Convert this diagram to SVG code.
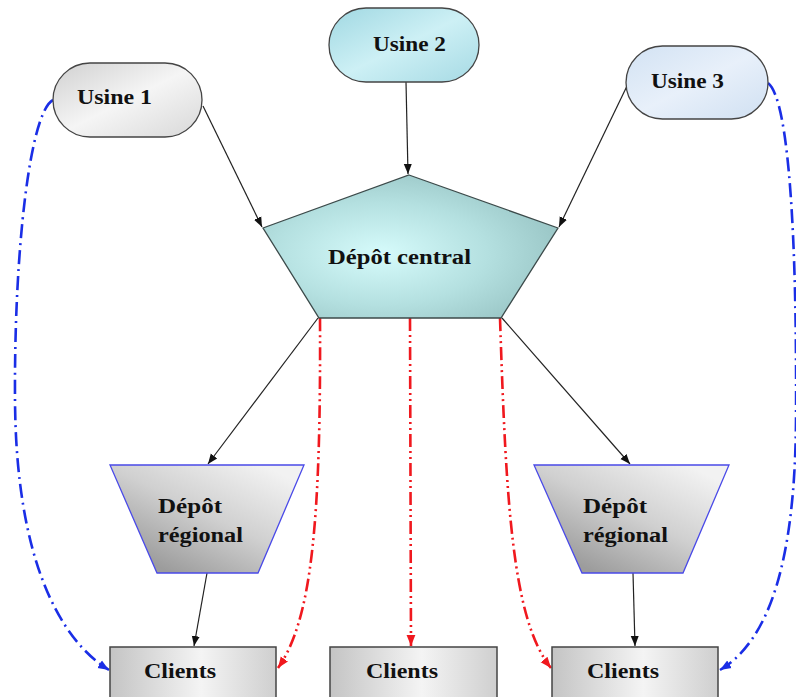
<svg xmlns="http://www.w3.org/2000/svg" width="796" height="697" viewBox="0 0 796 697">
<style>
.lbl{font-family:"Liberation Serif","Times New Roman",serif;font-weight:bold;font-size:20px;fill:#111;}
.pill{stroke:#444;stroke-width:1.3;}
.blk{fill:none;stroke:#222;stroke-width:1.2;marker-end:url(#ab);}
.blue{fill:none;stroke:#1a2ee6;stroke-width:2.6;stroke-dasharray:14 5 2 5;marker-end:url(#abl);}
.red{fill:none;stroke:#f0181e;stroke-width:2.6;stroke-dasharray:13 4 2 4 2 4;marker-end:url(#ar);}
.trap{stroke:#4a4ae8;stroke-width:1.3;fill:url(#gTrap);}
.cli{stroke:#444;stroke-width:1.5;fill:url(#gCli);}
</style>
<defs>
<marker id="ab" viewBox="0 0 10 10" refX="10" refY="5" markerWidth="10" markerHeight="10" markerUnits="userSpaceOnUse" orient="auto"><path d="M0,1 L10,5 L0,9 z" fill="#111"/></marker>
<marker id="abl" viewBox="0 0 10 10" refX="10" refY="5" markerWidth="11" markerHeight="11" markerUnits="userSpaceOnUse" orient="auto"><path d="M0,1 L10,5 L0,9 z" fill="#1a2ee6"/></marker>
<marker id="ar" viewBox="0 0 10 10" refX="10" refY="5" markerWidth="11" markerHeight="11" markerUnits="userSpaceOnUse" orient="auto"><path d="M0,1 L10,5 L0,9 z" fill="#f0181e"/></marker>
<linearGradient id="g1" x1="0" y1="0" x2="1" y2="1"><stop offset="0" stop-color="#d0d0d0"/><stop offset="0.5" stop-color="#f5f5f5"/><stop offset="1" stop-color="#d8d8d8"/></linearGradient>
<linearGradient id="g2" x1="0" y1="0" x2="1" y2="1"><stop offset="0" stop-color="#a0d8e2"/><stop offset="0.5" stop-color="#cdf0f5"/><stop offset="1" stop-color="#a6dae4"/></linearGradient>
<linearGradient id="g3" x1="0" y1="0" x2="1" y2="1"><stop offset="0" stop-color="#d2e2f3"/><stop offset="0.5" stop-color="#e8f0fa"/><stop offset="1" stop-color="#d0e0f2"/></linearGradient>
<radialGradient id="gPent" cx="0.4" cy="0.55" r="0.6"><stop offset="0" stop-color="#d6fbfb"/><stop offset="0.6" stop-color="#b4e0e0"/><stop offset="1" stop-color="#9cc8c8"/></radialGradient>
<linearGradient id="gTrap" x1="0.9" y1="0.1" x2="0.2" y2="0.9"><stop offset="0" stop-color="#f2f2f2"/><stop offset="0.5" stop-color="#d0d0d0"/><stop offset="1" stop-color="#9c9c9c"/></linearGradient>
<linearGradient id="gCli" x1="0" y1="0" x2="1" y2="0"><stop offset="0" stop-color="#c4c4c4"/><stop offset="0.55" stop-color="#f4f4f4"/><stop offset="1" stop-color="#cfcfcf"/></linearGradient>
</defs>

<g id="connectors">
<path class="blk" d="M203,106 L262,227"/>
<path class="blk" d="M406,82 L408,174"/>
<path class="blk" d="M627,86 L559,227"/>
<path class="blk" d="M318,318 L208,464"/>
<path class="blk" d="M502,318 L630,464"/>
<path class="blk" d="M207,573 L194,646"/>
<path class="blk" d="M633,573 L635,646"/>
<path class="blue" d="M53,100 C30,112 14,250 15,400 C16,560 60,640 109,670"/>
<path class="blue" d="M768,83 C790,100 797,250 796,420 C795,560 770,640 720,670"/>
<path class="red" d="M320,318 C321,520 312,620 278,668"/>
<path class="red" d="M410,318 L411,646"/>
<path class="red" d="M500,318 C506,500 512,620 551,668"/>
</g>

<g id="usine1"><rect class="pill" x="53" y="63" width="149" height="74" rx="37" fill="url(#g1)"/><text class="lbl" x="77" y="104" textLength="75" lengthAdjust="spacingAndGlyphs">Usine 1</text></g>
<g id="usine2"><rect class="pill" x="329" y="8" width="150" height="74" rx="37" fill="url(#g2)"/><text class="lbl" x="373" y="51" textLength="73" lengthAdjust="spacingAndGlyphs">Usine 2</text></g>
<g id="usine3"><rect class="pill" x="626" y="46" width="142" height="73" rx="36.5" fill="url(#g3)"/><text class="lbl" x="651" y="88" textLength="73" lengthAdjust="spacingAndGlyphs">Usine 3</text></g>

<g id="depot-central"><polygon points="409,175 558,228 501,318 319,318 263,228" fill="url(#gPent)" stroke="#3c4a4a" stroke-width="1.3"/><text class="lbl" x="328" y="264" textLength="143" lengthAdjust="spacingAndGlyphs">Dépôt central</text></g>

<g id="depot-regional-1"><polygon class="trap" points="110,465 304,465 258,573 157,573"/><text class="lbl" x="158" y="513" textLength="64" lengthAdjust="spacingAndGlyphs">Dépôt</text><text class="lbl" x="158" y="542" textLength="85" lengthAdjust="spacingAndGlyphs">régional</text></g>
<g id="depot-regional-2"><polygon class="trap" points="534,465 729,465 683,573 582,573"/><text class="lbl" x="583" y="513" textLength="64" lengthAdjust="spacingAndGlyphs">Dépôt</text><text class="lbl" x="583" y="542" textLength="85" lengthAdjust="spacingAndGlyphs">régional</text></g>

<g id="clients-1"><rect class="cli" x="110" y="647" width="166" height="60"/><text class="lbl" x="144" y="678" textLength="72" lengthAdjust="spacingAndGlyphs">Clients</text></g>
<g id="clients-2"><rect class="cli" x="330" y="647" width="167" height="60"/><text class="lbl" x="366" y="678" textLength="72" lengthAdjust="spacingAndGlyphs">Clients</text></g>
<g id="clients-3"><rect class="cli" x="552" y="647" width="166" height="60"/><text class="lbl" x="587" y="678" textLength="72" lengthAdjust="spacingAndGlyphs">Clients</text></g>
</svg>
